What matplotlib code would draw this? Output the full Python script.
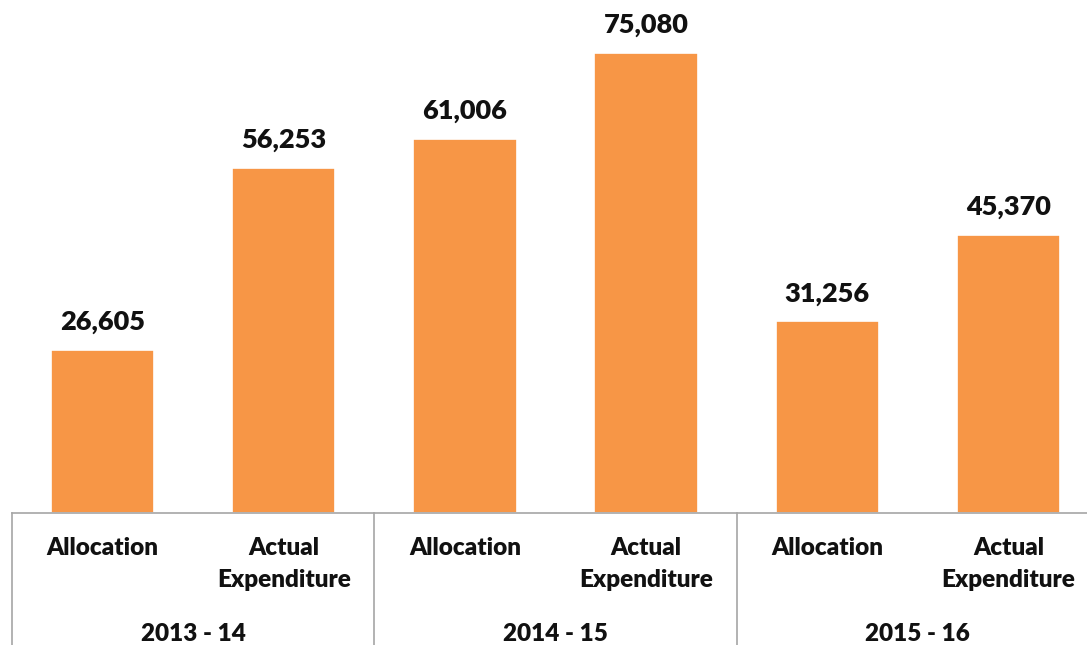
import matplotlib.pyplot as plt
import matplotlib.patheffects as pe

years = ["2013 - 14", "2014 - 15", "2015 - 16"]
kinds = ["Allocation", "Actual\nExpenditure"]
values = [26605, 56253, 61006, 75080, 31256, 45370]

plt.rcParams['font.family'] = ['Lato', 'DejaVu Sans']

W, H = 1087, 645
fig = plt.figure(figsize=(W / 100, H / 100), dpi=100)
# axes spans pixels x 12..1099 (runs a bit past the right edge), y 0..513
ax = fig.add_axes([12 / W, (H - 513) / H, 1087 / W, 513 / H])

x = list(range(len(values)))
bars = ax.bar(x, values, width=0.57, color="#F79646", edgecolor="white", linewidth=1.2)
for b in bars:
    b.set_path_effects([pe.SimplePatchShadow(offset=(0, 0), shadow_rgbFace="#c8c8c8", alpha=0.6),
                        pe.Normal()])

for xi, v in zip(x, values):
    ax.annotate(f"{v:,}", (xi, v), xytext=(0, 14.5), textcoords="offset points",
                ha="center", va="baseline", fontsize=19.5, fontweight="heavy", color="#111111")

ax.set_xlim(-0.5, 5.5)
ax.set_ylim(0, 83700)
ax.set_xticks([])
ax.set_yticks([])
for s in ["top", "right", "left"]:
    ax.spines[s].set_visible(False)
ax.spines["bottom"].set_color("#a6a6a6")
ax.spines["bottom"].set_linewidth(1.2)

trans = ax.get_xaxis_transform()
px = 1 / 513  # one pixel in axes fraction
for g in range(len(years) + 1):
    ax.plot([g * 2 - 0.5] * 2, [0, -140 * px], transform=trans, color="#a6a6a6",
            lw=1.2, clip_on=False)

lab_kw = dict(transform=trans, ha="center", va="center", fontsize=17.5,
              fontweight="heavy", color="#111111")
for i, xi in enumerate(x):
    lines = kinds[i % 2].split("\n")
    for j, line in enumerate(lines):
        ax.text(xi, (-35 - 32 * j) * px, line, **lab_kw)

for g, yr in enumerate(years):
    ax.text(g * 2 + 0.5, -121 * px, yr, **lab_kw)

fig.savefig("out.png", dpi=100)
